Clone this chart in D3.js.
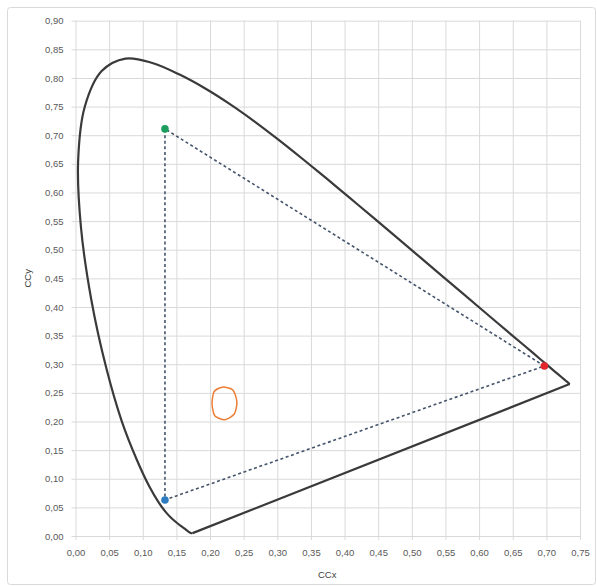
<!DOCTYPE html>
<html>
<head>
<meta charset="utf-8">
<script src="https://cdn.jsdelivr.net/npm/d3@7"></script>
<style>
  html, body { margin: 0; padding: 0; background: #fff; }
  svg { display: block; }
  text { font-family: "Liberation Sans", Arial, sans-serif; }
</style>
</head>
<body>
<svg id="chart" width="597" height="586"></svg>
<script>
// CIE 1931 spectral locus (chromaticity x, y), 380–700 nm
const locusX = [0.1741,0.1740,0.1738,0.1736,0.1733,0.1730,0.1726,0.1721,0.1714,0.1703,0.1689,0.1669,0.1644,0.1611,0.1566,0.1510,0.1440,0.1355,0.1241,0.1096,0.0913,0.0687,0.0454,0.0235,0.0082,0.0039,0.0139,0.0389,0.0743,0.1142,0.1547,0.1929,0.2296,0.2658,0.3016,0.3373,0.3731,0.4087,0.4441,0.4788,0.5125,0.5448,0.5752,0.6029,0.6270,0.6482,0.6658,0.6801,0.6915,0.7006,0.7079,0.7140,0.7190,0.7260,0.7300,0.7334,0.7347];
const locusY = [0.0050,0.0050,0.0049,0.0049,0.0048,0.0048,0.0048,0.0048,0.0051,0.0058,0.0069,0.0086,0.0109,0.0138,0.0177,0.0227,0.0297,0.0399,0.0578,0.0868,0.1327,0.2007,0.2950,0.4127,0.5384,0.6548,0.7502,0.8120,0.8338,0.8262,0.8059,0.7816,0.7543,0.7243,0.6923,0.6589,0.6245,0.5896,0.5547,0.5202,0.4866,0.4544,0.4242,0.3965,0.3725,0.3514,0.3340,0.3197,0.3083,0.2993,0.2920,0.2859,0.2809,0.2740,0.2700,0.2666,0.2653];

// Gamut primaries (red, green, blue)
const primaryNames = ["R", "G", "B"];
const primaryX = [0.697, 0.133, 0.133];
const primaryY = [0.297, 0.711, 0.063];
const primaryColors = ["#e3262b", "#1b9e5e", "#2d7cc0"];

// Small orange loop
const loopX = [0.218, 0.234, 0.240, 0.236, 0.222, 0.207, 0.203, 0.206];
const loopY = [0.260, 0.255, 0.234, 0.213, 0.203, 0.210, 0.231, 0.252];

// Axis ticks
const xTicks = d3.range(0, 0.7501, 0.05);
const yTicks = d3.range(0, 0.9001, 0.05);
const xTitle = "CCx";
const yTitle = "CCy";

(function () {
const svg = d3.select("#chart");
const mLeft = 75.5, mRight = 580, mTop = 20.7, mBottom = 536;
const x = d3.scaleLinear().domain([0, 0.75]).range([mLeft, mRight]);
const y = d3.scaleLinear().domain([0, 0.90]).range([mBottom, mTop]);
const fmt = v => d3.format(".2f")(v).replace(".", ",");

// outer frame
svg.append("rect").attr("x", 7.5).attr("y", 7.5).attr("width", 588).attr("height", 577)
  .attr("rx", 3).attr("fill", "#fff").attr("stroke", "#d9d9d9");

// axes with gridlines
const gx = svg.append("g").attr("transform", `translate(0,${mBottom})`)
  .call(d3.axisBottom(x).tickValues(xTicks).tickFormat(fmt)
    .tickSizeInner(-(mBottom - mTop)).tickSizeOuter(0).tickPadding(13));
gx.select(".domain").remove();
gx.selectAll(".tick line").attr("stroke", "#d9d9d9").attr("y1", 4);
gx.selectAll(".tick text").attr("fill", "#595959").attr("font-size", 9.5);

const gy = svg.append("g").attr("transform", `translate(${mLeft},0)`)
  .call(d3.axisLeft(y).tickValues(yTicks).tickFormat(fmt)
    .tickSizeInner(-(mRight - mLeft)).tickSizeOuter(0).tickPadding(12));
gy.select(".domain").remove();
gy.selectAll(".tick line").attr("stroke", "#d9d9d9").attr("x1", -4);
gy.selectAll(".tick text").attr("fill", "#595959").attr("font-size", 9.5);

// axis titles
svg.append("text").attr("x", (mLeft + mRight) / 2 - 0.5).attr("y", 578)
  .attr("text-anchor", "middle").attr("fill", "#404040").attr("font-size", 9.5).text(xTitle);
svg.append("text").attr("transform", `translate(31,${(mTop + mBottom) / 2}) rotate(-90)`)
  .attr("text-anchor", "middle").attr("fill", "#404040").attr("font-size", 9.5).text(yTitle);

// spectral locus
const locus = locusX.map((v, i) => [v, locusY[i]]);
svg.append("path").datum(locus)
  .attr("d", d3.line().x(d => x(d[0])).y(d => y(d[1])).curve(d3.curveCatmullRom))
  .attr("fill", "none").attr("stroke", "#3a3a3a").attr("stroke-width", 2.2);
// purple line (closing)
svg.append("path").datum([locus[locus.length - 1], locus[0]])
  .attr("d", d3.line().x(d => x(d[0])).y(d => y(d[1])))
  .attr("fill", "none").attr("stroke", "#3a3a3a").attr("stroke-width", 2.2);

// gamut triangle (dashed)
const tri = [0, 1, 2, 0].map(i => [primaryX[i], primaryY[i]]);
svg.append("path").datum(tri)
  .attr("d", d3.line().x(d => x(d[0])).y(d => y(d[1])))
  .attr("fill", "none").attr("stroke", "#44546a").attr("stroke-width", 1.6)
  .attr("stroke-dasharray", "3,2.6");

// orange loop
const loop = loopX.map((v, i) => [v, loopY[i]]);
svg.append("path").datum(loop)
  .attr("d", d3.line().x(d => x(d[0])).y(d => y(d[1])).curve(d3.curveCardinalClosed.tension(0.3)))
  .attr("fill", "none").attr("stroke", "#ed7d31").attr("stroke-width", 1.5);

// primary markers
svg.selectAll("circle.p").data(primaryNames).join("circle").attr("class", "p")
  .attr("cx", (d, i) => x(primaryX[i])).attr("cy", (d, i) => y(primaryY[i]))
  .attr("r", 3.8).attr("fill", (d, i) => primaryColors[i]);
})();
</script>
</body>
</html>
